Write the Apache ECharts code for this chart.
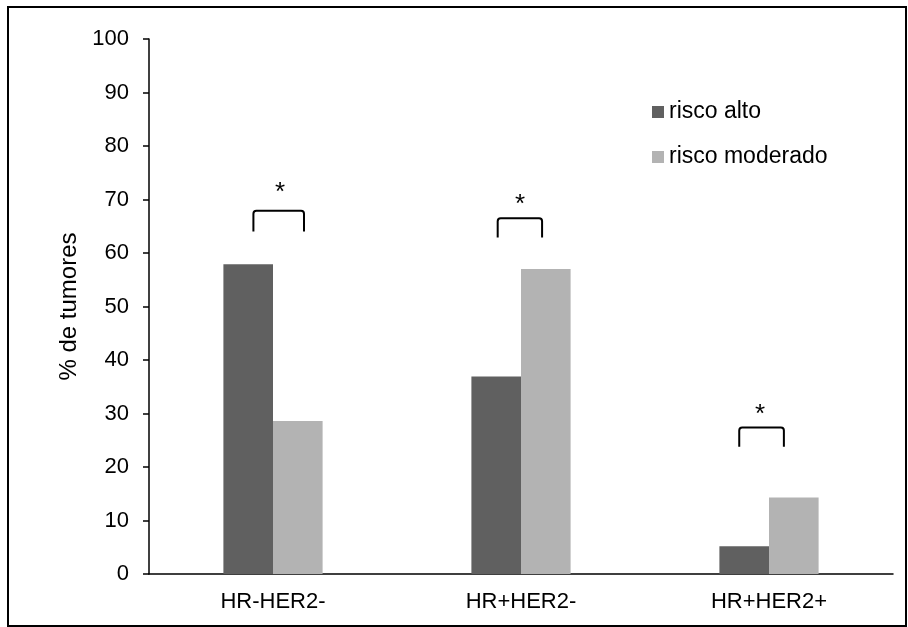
<!DOCTYPE html>
<html>
<head>
<meta charset="utf-8">
<script src="https://cdn.jsdelivr.net/npm/echarts@6/dist/echarts.min.js"></script>
<style>
  html, body { margin: 0; padding: 0; background: #fff; }
  #chart { width: 908px; height: 627px; }
</style>
</head>
<body>
<div id="chart"></div>
<script>
// Tumour subtypes and the share of tumours (%) in each risk group
const categories = ['HR-HER2-', 'HR+HER2-', 'HR+HER2+'];
const riscoAlto = [57.9, 36.9, 5.2];
const riscoModerado = [28.6, 57.0, 14.3];
const yTicks = { min: 0, max: 100, step: 10 };

// Significance brackets: one per subtype, levels in % units
const sigCategory = [0, 1, 2];
const sigBracketLow = [64.0, 62.9, 23.8];
const sigBracketHigh = [67.9, 66.5, 27.4];
const sigMarkLevel = [71.3, 69.0, 29.7];
const sigMark = ['*', '*', '*'];

const FONT = '"Liberation Sans", Arial, sans-serif';
// horizontal extent of each bracket, as a fraction of the category band
const bracketSpan = [[-0.079, 0.125], [-0.094, 0.085], [-0.120, 0.060]];
const markShift = [0.028, -0.004, -0.036];

const chart = echarts.init(document.getElementById('chart'), null, { renderer: 'canvas' });

const sigData = sigCategory.map((c, i) => [c, sigBracketLow[i], sigBracketHigh[i], sigMarkLevel[i], i]);

chart.setOption({
  animation: false,
  backgroundColor: '#fff',
  textStyle: { fontFamily: FONT },
  grid: { left: 149, right: 15, top: 39, bottom: 53 },
  graphic: [{
    type: 'rect',
    shape: { x: 8, y: 7, width: 898, height: 619 },
    style: { fill: 'none', stroke: '#000', lineWidth: 2 },
    silent: true,
    z: 100
  }],
  legend: {
    data: ['risco alto', 'risco moderado'],
    orient: 'vertical',
    left: 647,
    top: 95,
    icon: 'rect',
    itemWidth: 12,
    itemHeight: 12,
    itemGap: 21,
    textStyle: { fontFamily: FONT, fontSize: 23, color: '#000', lineHeight: 24 }
  },
  xAxis: {
    type: 'category',
    data: categories,
    axisLine: { lineStyle: { color: '#000', width: 1.5 } },
    axisTick: { show: false },
    axisLabel: { color: '#000', fontSize: 22, fontFamily: FONT, margin: 17 }
  },
  yAxis: {
    type: 'value',
    min: yTicks.min,
    max: yTicks.max,
    interval: yTicks.step,
    name: '% de tumores',
    nameLocation: 'middle',
    nameRotate: 90,
    nameGap: 67,
    nameTextStyle: { color: '#000', fontSize: 24, fontFamily: FONT },
    splitLine: { show: false },
    axisLine: { show: true, lineStyle: { color: '#000', width: 1.5 } },
    axisTick: { show: true, inside: false, length: 6, lineStyle: { color: '#000', width: 1.5 } },
    axisLabel: { color: '#000', fontSize: 22, fontFamily: FONT, margin: 20 }
  },
  series: [
    {
      name: 'risco alto',
      type: 'bar',
      data: riscoAlto,
      barGap: '0%',
      barCategoryGap: '60%',
      itemStyle: { color: '#606060' }
    },
    {
      name: 'risco moderado',
      type: 'bar',
      data: riscoModerado,
      barGap: '0%',
      barCategoryGap: '60%',
      itemStyle: { color: '#b3b3b3' }
    },
    {
      name: 'significancia',
      type: 'custom',
      silent: true,
      z: 10,
      data: sigData,
      encode: { x: 0, y: [1, 2, 3] },
      renderItem: function (params, api) {
        const c = api.value(0);
        const idx = api.value(4);
        const band = api.size([1, 0])[0];
        const low = api.coord([c, api.value(1)]);
        const high = api.coord([c, api.value(2)]);
        const mark = api.coord([c, api.value(3)]);
        const x1 = low[0] + bracketSpan[idx][0] * band;
        const x2 = low[0] + bracketSpan[idx][1] * band;
        const r = 3;
        return {
          type: 'group',
          children: [
            {
              type: 'path',
              shape: {
                pathData:
                  'M' + x1 + ' ' + low[1] +
                  ' L' + x1 + ' ' + (high[1] + r) +
                  ' Q' + x1 + ' ' + high[1] + ' ' + (x1 + r) + ' ' + high[1] +
                  ' L' + (x2 - r) + ' ' + high[1] +
                  ' Q' + x2 + ' ' + high[1] + ' ' + x2 + ' ' + (high[1] + r) +
                  ' L' + x2 + ' ' + low[1]
              },
              style: { fill: 'none', stroke: '#000', lineWidth: 2 }
            },
            {
              type: 'text',
              style: {
                text: sigMark[idx],
                x: mark[0] + markShift[idx] * band,
                y: mark[1],
                align: 'center',
                verticalAlign: 'middle',
                fill: '#000',
                font: '26px ' + FONT
              }
            }
          ]
        };
      }
    }
  ]
});
</script>
</body>
</html>
